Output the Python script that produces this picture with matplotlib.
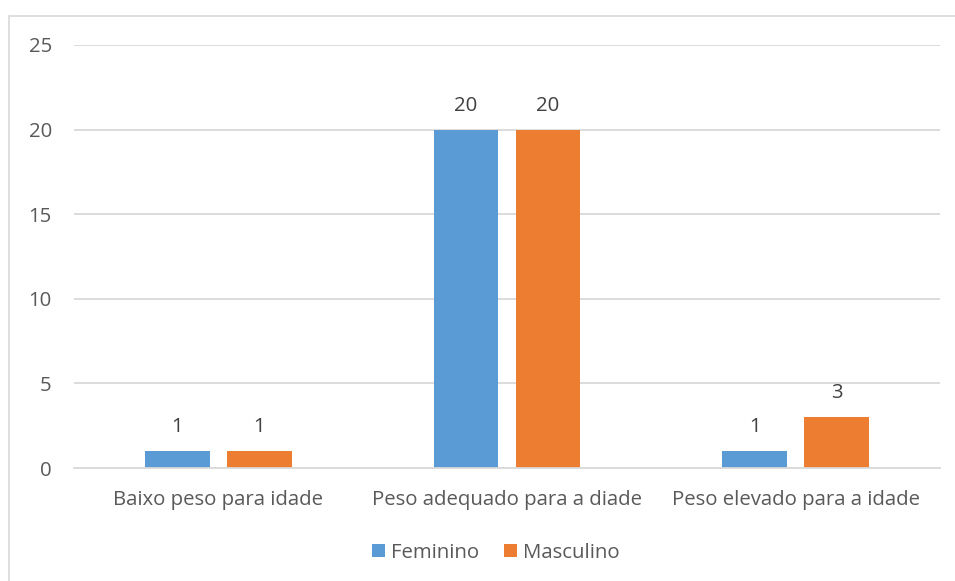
import numpy as np
import matplotlib.pyplot as plt
from matplotlib.patches import Rectangle

categories = ['Baixo peso para idade', 'Peso adequado para a diade', 'Peso elevado para a idade']
feminino = [1, 20, 1]
masculino = [1, 20, 3]
yticks = [0, 5, 10, 15, 20, 25]

plt.rcParams['font.family'] = ['Open Sans', 'DejaVu Sans']
text_color = '#595959'

fig = plt.figure(figsize=(9.55, 5.81), dpi=100)
ax = fig.add_axes([74 / 955, 1 - 468 / 581, 866 / 955, 423 / 581])

# chart area border (right and bottom edges run off the picture)
fig.patches.append(Rectangle((9 / 955, -0.5), 3, 1 - 16 / 581 + 0.5,
                             transform=fig.transFigure, fill=False,
                             edgecolor='#d9d9d9', linewidth=1.2))

x = np.arange(len(categories))
w = 0.225
off = 0.142
b1 = ax.bar(x - off, feminino, w, color='#5b9bd5', label='Feminino')
b2 = ax.bar(x + off, masculino, w, color='#ed7d31', label='Masculino')

fs = 14.7
for bars in (b1, b2):
    for r in bars:
        ax.annotate(str(int(r.get_height())), (r.get_x() + r.get_width() / 2, r.get_height()),
                    xytext=(0, 10), textcoords='offset points', ha='center', va='bottom',
                    fontsize=fs, color='#404040')

ax.set_xlim(-0.5, 2.5)
ax.set_ylim(0, 25)
ax.set_yticks(yticks)
ax.yaxis.grid(True, color='#d9d9d9', linewidth=1.3)
ax.set_axisbelow(True)
for s in ['top', 'right', 'left']:
    ax.spines[s].set_visible(False)
ax.spines['bottom'].set_color('#d9d9d9')
ax.spines['bottom'].set_linewidth(1.3)
ax.tick_params(length=0, labelsize=fs, colors=text_color)
ax.tick_params(axis='y', pad=16)
ax.tick_params(axis='x', pad=15.5)
ax.set_xticks(x)
ax.set_xticklabels(categories)

ax.legend(loc='center', bbox_to_anchor=(0.487, -0.2), ncol=2, frameon=False,
          fontsize=fs, labelcolor=text_color, handlelength=0.65, handleheight=0.65,
          handletextpad=0.3, columnspacing=1.2)

fig.savefig('out.png', dpi=100)
